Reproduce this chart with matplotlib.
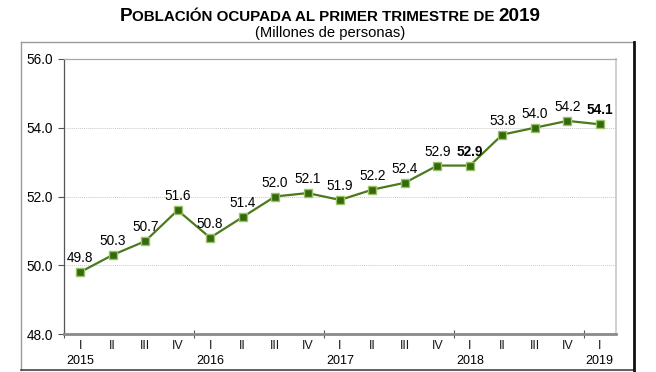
import matplotlib
matplotlib.use("Agg")
import matplotlib.pyplot as plt
from matplotlib.lines import Line2D

plt.rcParams['font.family'] = ['Liberation Sans', 'DejaVu Sans']

# datos
quarters = ['I', 'II', 'III', 'IV'] * 4 + ['I']
years = ['2015', '2016', '2017', '2018', '2019']
values = [49.8, 50.3, 50.7, 51.6, 50.8, 51.4, 52.0, 52.1,
          51.9, 52.2, 52.4, 52.9, 52.9, 53.8, 54.0, 54.2, 54.1]
bold_idx = [12, 16]
yticks = [48.0, 50.0, 52.0, 54.0, 56.0]

W, H = 656, 372
fig = plt.figure(figsize=(W / 100, H / 100), dpi=100)
ax = fig.add_axes([64 / W, 1 - 334 / H, (616 - 64) / W, (334 - 59) / H])

x = list(range(len(values)))
ax.plot(x, values, color='#4a7a1c', lw=1.6, marker='s', markersize=6,
        markerfacecolor='#336a0a', markeredgecolor='#9cc06a', markeredgewidth=1, zorder=3)

for i, v in enumerate(values):
    ax.annotate(f'{v:.1f}', (i, v), xytext=(0, 10), textcoords='offset points',
                ha='center', va='center', fontsize=9.8,
                fontweight='bold' if i in bold_idx else 'normal')

ax.set_xlim(-0.5, len(values) - 0.5)
ax.set_ylim(48, 56)
ax.set_yticks(yticks)
ax.set_yticklabels([f'{t:.1f}' for t in yticks], fontsize=9.8)
ax.tick_params(axis='y', length=4, width=0.8, color='#555555', pad=4)

ax.set_xticks([-0.5, 3.5, 7.5, 11.5, 15.5])
ax.set_xticklabels([])
ax.tick_params(axis='x', direction='inout', length=6, width=0.8, color='#555555')

for t in [50, 52, 54]:
    ax.axhline(t, color='#c8c8c8', lw=0.7, ls=(0, (1, 1)), zorder=1)

ax.spines['left'].set_color('#555555')
ax.spines['left'].set_linewidth(0.9)
ax.spines['bottom'].set_color('#8a8a8a')
ax.spines['bottom'].set_linewidth(2)
ax.spines['top'].set_color('#a8a8a8')
ax.spines['top'].set_linewidth(0.9)
ax.spines['right'].set_color('#c8c8c8')
ax.spines['right'].set_linewidth(1.2)

trans = ax.get_xaxis_transform()
for i, q in enumerate(quarters):
    ax.text(i, -0.045, q, transform=trans, ha='center', va='center', fontsize=9,
            color='#1a1a1a')
for k, yr in enumerate(years):
    ax.text(k * 4, -0.097, yr, transform=trans, ha='center', va='center', fontsize=9)

# marco exterior
fx = lambda p: p / W
fy = lambda p: 1 - p / H
fig.add_artist(Line2D([fx(21), fx(634)], [fy(42), fy(42)], color='#9a9a9a', lw=1))
fig.add_artist(Line2D([fx(21), fx(21)], [fy(42), fy(370)], color='#9a9a9a', lw=1))
fig.add_artist(Line2D([fx(21), fx(634)], [fy(370), fy(370)], color='#444444', lw=1.2))
fig.add_artist(Line2D([fx(634), fx(634)], [fy(42), fy(371)], color='#111111', lw=2))

# titulo en versalitas
renderer = fig.canvas.get_renderer()
pieces = [('P', 13.6), ('OBLACIÓN OCUPADA AL PRIMER TRIMESTRE DE ', 10.9), ('2019', 13.6)]
texts = []
for s, size in pieces:
    texts.append(fig.text(0, fy(21), s, fontsize=size, fontweight='bold', va='baseline', ha='left'))
widths = [t.get_window_extent(renderer).width for t in texts]
x0 = 330 - sum(widths) / 2
for t, w in zip(texts, widths):
    t.set_x(fx(x0))
    x0 += w
fig.text(fx(330), fy(33), '(Millones de personas)', fontsize=10.6, ha='center', va='center')

fig.savefig('out.png', dpi=100)
